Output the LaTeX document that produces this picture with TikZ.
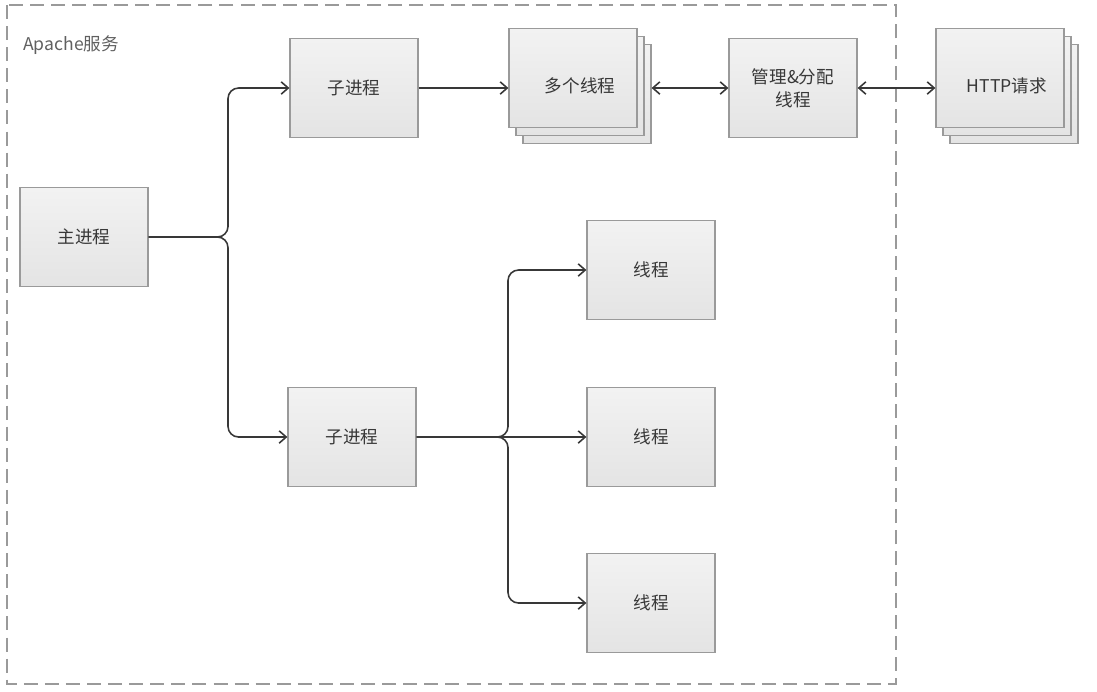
\documentclass[tikz,border=0pt]{standalone}
\usepackage{fontspec}
\setmainfont{Noto Sans CJK SC}
\usetikzlibrary{arrows.meta}
\definecolor{boxline}{HTML}{9A9A9A}
\definecolor{boxtop}{HTML}{F2F2F2}
\definecolor{boxbot}{HTML}{E4E4E4}
\definecolor{wire}{HTML}{383838}
\definecolor{txt}{HTML}{383838}

\begin{document}
\begin{tikzpicture}[x=0.02cm, y=-0.02cm,
  block/.style={rectangle, draw=boxline, line width=0.7pt, top color=boxtop, bottom color=boxbot, text=txt, text width=5em, align=center, minimum width=2.56cm, minimum height=1.98cm, font=\fontsize{10}{13}\selectfont},
  line/.style={draw=wire, line width=0.9pt, -{Straight Barb[length=4pt,width=7pt]}},
  dline/.style={line, {Straight Barb[length=4pt,width=7pt]}-{Straight Barb[length=4pt,width=7pt]}}
]
    \useasboundingbox (0,0) rectangle (1097,691);
    \draw [boxline, line width=0.9pt, dash pattern=on 8pt off 4pt] (7,5) rectangle (896,684);
    \node [anchor=west, text=txt!80, font=\fontsize{10}{12}\selectfont] (apache) at (17,45) {Apache服务};

    \node [block] (main) at (84,237) {主进程};
    \node [block] (sub1) at (354,88) {子进程};
    \node [block] (sub2) at (352,437) {子进程};

    \node [block] (multiC) at (587,94) {};
    \node [block] (multiB) at (580,86) {};
    \node [block, label={[xshift=0.14cm, yshift=-0.16cm, text=txt, font=\fontsize{10}{12}\selectfont]center:多个线程}] (multi) at (573,78) {};
    \node [block] (mgr) at (793,88) {管理\&分配\\线程};
    \node [block] (httpC) at (1014,94) {};
    \node [block] (httpB) at (1007,86) {};
    \node [block, label={[xshift=0.14cm, yshift=-0.16cm, text=txt, font=\fontsize{10}{12}\selectfont]center:HTTP请求}] (http) at (1000,78) {};

    \node [block] (t1) at (651,270) {线程};
    \node [block] (t2) at (651,437) {线程};
    \node [block] (t3) at (651,603) {线程};

    \coordinate (fork) at (228,237);
    \coordinate (fork2) at (508,437);

    \path [line, rounded corners=6pt] (main.east) -- (fork) |- (sub1.west);
    \path [line, rounded corners=6pt] (main.east) -- (fork) |- (sub2.west);
    \path [line] (sub1.east) -- (sub1.east -| multi.west);
    \path [dline] (multiC.east |- mgr.west) -- (mgr.west);
    \path [dline] (mgr.east) -- (mgr.east -| http.west);
    \path [line, rounded corners=6pt] (sub2.east) -- (fork2) |- (t1.west);
    \path [line] (sub2.east) -- (t2.west);
    \path [line, rounded corners=6pt] (sub2.east) -- (fork2) |- (t3.west);
\end{tikzpicture}
\end{document}
